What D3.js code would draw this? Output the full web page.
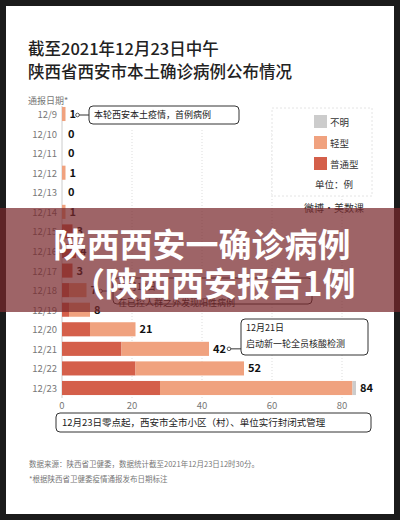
<!DOCTYPE html><html><head><meta charset="utf-8"><script src="https://cdn.jsdelivr.net/npm/d3@7"></script>
<style>body{margin:0;background:#1b1b1b}svg{display:block}</style></head><body><svg id="c" width="400" height="520"></svg>
<script>
const dates=["12/9","12/10","12/11","12/12","12/13","12/14","12/15","12/16","12/17","12/18","12/19","12/20","12/21","12/22","12/23"];
const severe=[0,0,0,0,0,0,3,4,3,2,2,8,17,21,28];
const mild=[1,0,0,1,0,1,0,0,0,5,6,13,25,31,55];
const unknown=[0,0,0,0,0,0,0,0,0,0,0,0,0,0,1];
const totals=[1,0,0,1,0,1,3,4,3,7,8,21,42,52,84];
const xTicks=[0,20,40,60,80];
const F="'Noto Sans CJK SC',sans-serif";
const svg=d3.select("#c");
svg.append("rect").attr("x",6).attr("y",6).attr("width",388).attr("height",508).attr("fill","#fff");
svg.append("text").attr("x",28).attr("y",55).attr("font-family",F).attr("font-size",16.5).attr("font-weight",500).attr("fill","#222").text("截至2021年12月23日中午");
svg.append("text").attr("x",28).attr("y",78).attr("font-family",F).attr("font-size",16.5).attr("font-weight",500).attr("fill","#222").text("陕西省西安市本土确诊病例公布情况");
svg.append("text").attr("x",28).attr("y",104).attr("font-family",F).attr("font-size",9).attr("fill","#777").text("通报日期*");
const x=d3.scaleLinear().domain([0,80]).range([62,342]);
const y=d3.scaleBand().domain(dates).range([105,397]).paddingInner(0.28).paddingOuter(0.1);
const g=svg.append("g");
g.selectAll(".gl").data(xTicks.slice(1)).join("line").attr("x1",d=>x(d)).attr("x2",d=>x(d)).attr("y1",130).attr("y2",398).attr("stroke","#ddd").attr("stroke-dasharray","1,2");
g.append("line").attr("x1",x(0)).attr("x2",x(0)).attr("y1",106).attr("y2",398).attr("stroke","#ccc");
const rows=dates.map((d,i)=>({d,s:severe[i],m:mild[i],u:unknown[i],t:totals[i]}));
g.selectAll(".s").data(rows).join("rect").attr("x",x(0)).attr("y",r=>y(r.d)).attr("height",y.bandwidth()).attr("width",r=>x(r.s)-x(0)).attr("fill","#d45f4a");
g.selectAll(".m").data(rows).join("rect").attr("x",r=>x(r.s)).attr("y",r=>y(r.d)).attr("height",y.bandwidth()).attr("width",r=>x(r.s+r.m)-x(r.s)).attr("fill","#f0a27f");
g.selectAll(".u").data(rows).join("rect").attr("x",r=>x(r.s+r.m)).attr("y",r=>y(r.d)).attr("height",y.bandwidth()).attr("width",r=>x(r.s+r.m+r.u)-x(r.s+r.m)).attr("fill","#ccc");
g.selectAll(".v").data(rows).join("text").attr("x",r=>x(r.t)+(r.t>0?4:6)).attr("y",r=>y(r.d)+y.bandwidth()/2+4).attr("font-family",F).attr("font-size",11).attr("font-weight",700).attr("fill","#111").text(r=>r.t);
g.selectAll(".yl").data(dates).join("text").attr("x",57).attr("y",d=>y(d)+y.bandwidth()/2+4).attr("text-anchor","end").attr("font-family",F).attr("font-size",9.5).attr("fill","#777").text(d=>d);
g.selectAll(".xl").data(xTicks).join("text").attr("x",d=>x(d)).attr("y",409).attr("text-anchor","middle").attr("font-family",F).attr("font-size",9.5).attr("fill","#777").text(d=>d);
// legend
svg.append("rect").attr("x",272).attr("y",108).attr("width",100).attr("height",88).attr("fill","#fff").attr("stroke","#e4e4e4").attr("stroke-dasharray","2,2");
[["不明","#ccc"],["轻型","#f0a27f"],["普通型","#d45f4a"]].forEach((l,i)=>{
 svg.append("rect").attr("x",314).attr("y",115+i*21).attr("width",13).attr("height",13).attr("fill",l[1]);
 svg.append("text").attr("x",330).attr("y",126+i*21).attr("font-family",F).attr("font-size",9.5).attr("fill","#333").text(l[0]);});
svg.append("text").attr("x",315).attr("y",188).attr("font-family",F).attr("font-size",9.5).attr("fill","#333").text("单位：例");
svg.append("text").attr("x",304).attr("y",212).attr("font-family",F).attr("font-size",10).attr("fill","#333").text("微博·美数课");
function note(x0,y0,w,h,lines,ax,ay){
 svg.append("line").attr("x1",ax).attr("x2",x0).attr("y1",ay).attr("y2",ay).attr("stroke","#333");
 svg.append("circle").attr("cx",ax).attr("cy",ay).attr("r",1.8).attr("fill","#fff").attr("stroke","#333").attr("stroke-width",0.8);
 svg.append("rect").attr("x",x0).attr("y",y0).attr("width",w).attr("height",h).attr("rx",4).attr("fill","#fff").attr("stroke","#333");
 lines.forEach((t,i)=>svg.append("text").attr("x",x0+5).attr("y",y0+12+i*16).attr("font-family",F).attr("font-size",9).attr("fill","#222").text(t));}
note(89,106,150,18,["本轮西安本土疫情，首例病例"],x(1)+12,115);
note(113,278,199,26,["12月18日","在已控人群之外发现阳性病例"],x(7)+14,291);
note(241,319,127,36,["12月21日","启动新一轮全员核酸检测"],x(42)+20,y("12/21")+y.bandwidth()/2);
svg.append("rect").attr("x",56).attr("y",413).attr("width",315).attr("height",19).attr("rx",4).attr("fill","#fff").attr("stroke","#333");
svg.append("text").attr("x",62).attr("y",426).attr("font-family",F).attr("font-size",9.5).attr("fill","#222").text("12月23日零点起，西安市全市小区（村）、单位实行封闭式管理");
svg.append("text").attr("x",29).attr("y",467).attr("font-family",F).attr("font-size",7.5).attr("fill","#777").text("数据来源：陕西省卫健委，数据统计截至2021年12月23日12时30分。");
svg.append("text").attr("x",29).attr("y",482).attr("font-family",F).attr("font-size",7.5).attr("fill","#777").text("*根据陕西省卫健委疫情通报发布日期标注");
// banner
svg.append("rect").attr("x",0).attr("y",208).attr("width",400).attr("height",104).attr("fill","rgb(120,40,45)").attr("opacity",0.72);
svg.append("text").attr("x",202).attr("y",257).attr("text-anchor","middle").attr("font-family",F).attr("font-size",33).attr("font-weight",700).attr("fill","#fff").text("陕西西安一确诊病例");
svg.append("text").attr("x",72).attr("y",296).attr("font-family",F).attr("font-size",33).attr("font-weight",700).attr("fill","#fff").text("（陕西西安报告1例");
</script></body></html>
